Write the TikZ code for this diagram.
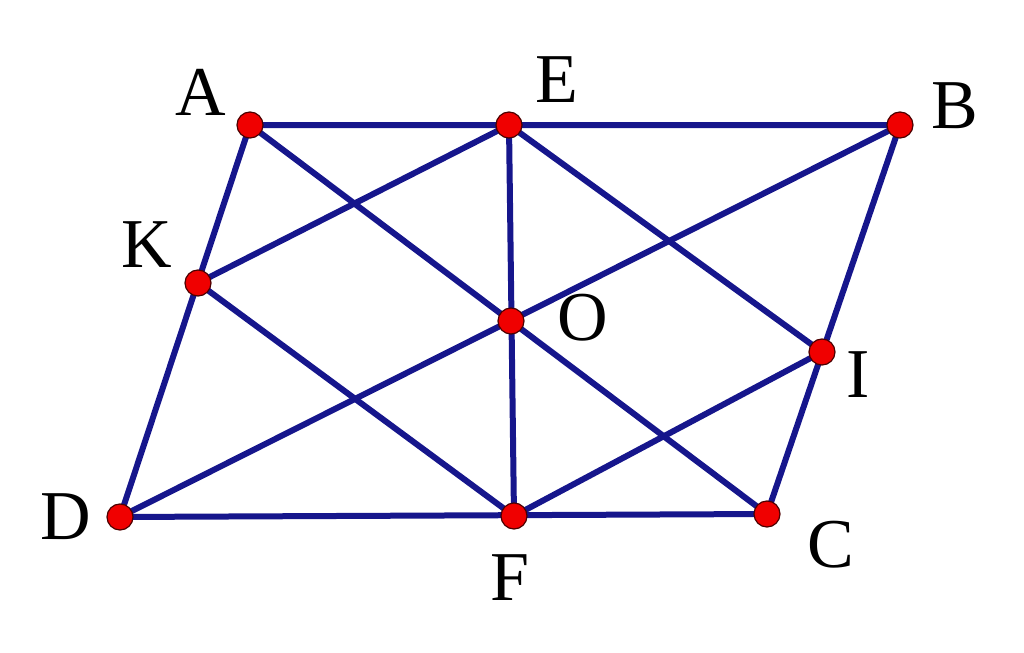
\documentclass[tikz,border=0pt]{standalone}
\usepackage{fontspec}
\setmainfont{Liberation Serif}
\definecolor{edgeblue}{RGB}{22,22,140}
\definecolor{dotred}{RGB}{240,0,0}
\tikzset{
  edge/.style={draw=edgeblue, line width=3pt, line cap=round},
  pt/.style={circle, fill=dotred, draw=black!70!red, line width=0.6pt, minimum size=13pt, inner sep=0pt},
  lbl/.style={font=\fontsize{35}{35}\selectfont, inner sep=0pt}
}
\begin{document}
\begin{tikzpicture}[x=0.5pt,y=-0.5pt]
\useasboundingbox (0,0) rectangle (1024,653);
\coordinate (A) at (250,125);
\coordinate (E) at (509,125);
\coordinate (B) at (900,125);
\coordinate (K) at (198,283);
\coordinate (O) at (511,321);
\coordinate (I) at (822,352);
\coordinate (D) at (120,517);
\coordinate (F) at (514,516);
\coordinate (C) at (767,514);
\draw[edge] (A) -- (B) -- (C) -- (D) -- cycle;
\draw[edge] (A) -- (C);
\draw[edge] (B) -- (D);
\draw[edge] (E) -- (F);
\draw[edge] (K) -- (E) -- (I) -- (F) -- (K);
\foreach \p in {A,E,B,K,O,I,D,F,C} \node[pt] (n\p) at (\p) {};
\node[lbl] (lA) at (201,92) {A};
\node[lbl] (lE) at (557,80) {E};
\node[lbl] (lB) at (955,106) {B};
\node[lbl] (lK) at (147,245) {K};
\node[lbl] (lO) at (583,318) {O};
\node[lbl] (lI) at (858,375) {I};
\node[lbl] (lD) at (66,517) {D};
\node[lbl] (lF) at (510,578) {F};
\node[lbl] (lC) at (831,545) {C};
\end{tikzpicture}
\end{document}
